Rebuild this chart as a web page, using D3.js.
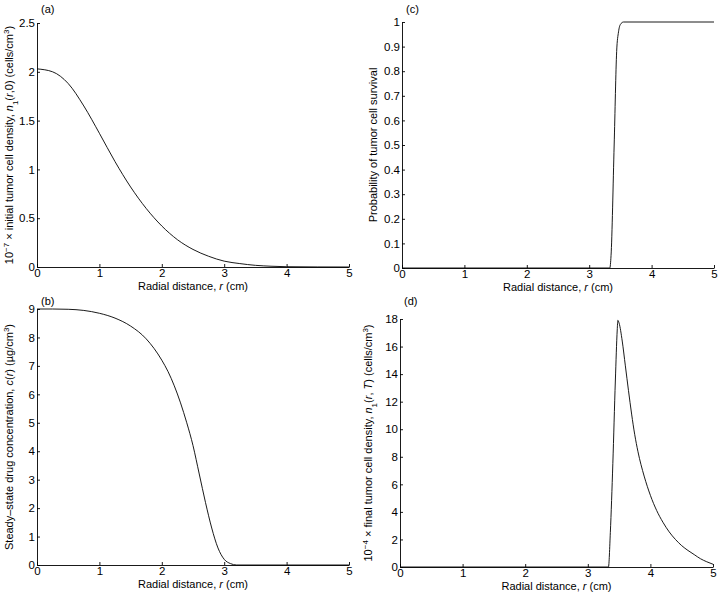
<!DOCTYPE html>
<html>
<head>
<meta charset="utf-8">
<script src="https://cdn.jsdelivr.net/npm/d3@7"></script>
<style>
  body { margin: 0; background: #fff; }
  text { font-family: "Liberation Sans", Arial, sans-serif; fill: #000; }
</style>
</head>
<body>
<div id="chart-area"></div>
<script>
// panel (a): initial tumor cell density
let rA = [0, 0.25, 0.5, 0.75, 1.0, 1.25, 1.5, 1.75, 2.0, 2.25, 2.5, 2.75, 3.0, 3.25, 3.5, 3.75, 4.0, 4.5, 5.0];
let nInit = [2.03, 2.0, 1.88, 1.65, 1.37, 1.08, 0.82, 0.6, 0.42, 0.28, 0.18, 0.11, 0.06, 0.035, 0.017, 0.008, 0.003, 0.0005, 0];

// panel (b): steady-state drug concentration
let rB = [0, 0.25, 0.5, 0.75, 1.0, 1.25, 1.5, 1.75, 2.0, 2.1, 2.2, 2.3, 2.4, 2.5, 2.6, 2.7, 2.8, 2.9, 3.0, 3.1, 3.2, 4.0, 5.0];
let cDrug = [9.0, 9.0, 8.99, 8.95, 8.85, 8.68, 8.4, 7.95, 7.2, 6.8, 6.3, 5.7, 5.0, 4.2, 3.2, 2.2, 1.3, 0.6, 0.2, 0.05, 0, 0, 0];

// panel (c): probability of tumor cell survival
let rC = [0, 3.33, 3.35, 3.4, 3.44, 3.47, 3.5, 3.55, 5.0];
let pSurv = [0, 0, 0.05, 0.5, 0.88, 0.96, 0.99, 1.0, 1.0];

// panel (d): final tumor cell density
let rD = [0, 3.33, 3.36, 3.4, 3.44, 3.47, 3.48, 3.5, 3.55, 3.6, 3.65, 3.7, 3.75, 3.8, 3.9, 4.0, 4.1, 4.2, 4.3, 4.4, 4.5, 4.6, 4.7, 4.8, 4.9, 5.0];
let nFinal = [0, 0, 2.5, 7.5, 13.5, 17.2, 17.9, 17.7, 16.4, 14.6, 12.8, 11.1, 9.6, 8.4, 6.6, 5.2, 4.1, 3.25, 2.55, 2.0, 1.55, 1.2, 0.9, 0.6, 0.38, 0.2];

let xTicks = [0, 1, 2, 3, 4, 5];
let yTicksA = [0, 0.5, 1, 1.5, 2, 2.5];
let yTicksB = [0, 1, 2, 3, 4, 5, 6, 7, 8, 9];
let yTicksC = [0, 0.1, 0.2, 0.3, 0.4, 0.5, 0.6, 0.7, 0.8, 0.9, 1];
let yTicksD = [0, 2, 4, 6, 8, 10, 12, 14, 16, 18];

let svg = d3.select("#chart-area")
  .append("svg")
  .attr("width", 720)
  .attr("height", 595);

function drawPanel(p) {
  let g = svg.append("g").attr("transform", "translate(" + p.left + "," + p.top + ")");
  let w = p.right - p.left;
  let h = p.bottom - p.top;

  let x = d3.scaleLinear().domain([0, 5]).range([0, w]);
  let y = d3.scaleLinear().domain([0, p.yMax]).range([h, 0]);

  let xAxis = d3.axisBottom(x).tickValues(xTicks).tickFormat(d3.format("d"))
    .tickSizeInner(-3).tickSizeOuter(0).tickPadding(2);
  let yAxis = d3.axisLeft(y).tickValues(p.yTicks).tickFormat(d => String(d))
    .tickSizeInner(-3).tickSizeOuter(0).tickPadding(2);

  let gx = g.append("g").attr("transform", "translate(0," + h + ")").call(xAxis);
  let gy = g.append("g").call(yAxis);
  [gx, gy].forEach(a => {
    a.selectAll("text").attr("font-size", "11.5px").attr("font-family", "Liberation Sans, Arial, sans-serif");
    a.selectAll("path, line").attr("stroke", "#000").attr("stroke-width", 0.9);
  });

  let line = d3.line()
    .x((d, i) => x(p.r[i]))
    .y(d => y(d))
    .curve(d3.curveMonotoneX);

  g.append("path")
    .datum(p.v)
    .attr("fill", "none")
    .attr("stroke", "#000")
    .attr("stroke-width", 0.9)
    .attr("d", line);

  // panel letter
  g.append("text")
    .attr("x", 4)
    .attr("y", p.tagY)
    .attr("font-size", "11px")
    .text(p.tag);

  // x label
  let xl = g.append("text")
    .attr("x", w / 2)
    .attr("y", h + 22.5)
    .attr("text-anchor", "middle")
    .attr("font-size", "11px");
  xl.append("tspan").text("Radial distance, ");
  xl.append("tspan").attr("font-style", "italic").text("r");
  xl.append("tspan").text(" (cm)");

  // y label
  let yl = g.append("text")
    .attr("transform", "translate(" + p.ylabX + "," + (h / 2) + ") rotate(-90)")
    .attr("text-anchor", "middle")
    .attr("font-size", "11px");
  p.ylab.forEach(s => {
    let t = yl.append("tspan").text(s.t);
    if (s.i) t.attr("font-style", "italic");
    if (s.sup) t.attr("font-size", "8px").attr("baseline-shift", "super");
    if (s.sub) t.attr("font-size", "8px").attr("baseline-shift", "sub");
  });
}

drawPanel({
  left: 37, right: 349, top: 23, bottom: 267, yMax: 2.5, yTicks: yTicksA,
  r: rA, v: nInit, tag: "(a)", tagY: -10, ylabX: -24,
  ylab: [{t: "10"}, {t: "\u22127", sup: true}, {t: " \u00d7 initial tumor cell density, "},
         {t: "n", i: true}, {t: "1", sub: true}, {t: "("}, {t: "r", i: true}, {t: ",0) (cells/cm"},
         {t: "3", sup: true}, {t: ")"}]
});

drawPanel({
  left: 37, right: 349, top: 309, bottom: 565, yMax: 9, yTicks: yTicksB,
  r: rB, v: cDrug, tag: "(b)", tagY: -4, ylabX: -24,
  ylab: [{t: "Steady\u2013state drug concentration, "}, {t: "c", i: true}, {t: "("},
         {t: "r", i: true}, {t: ") (\u00b5g/cm"}, {t: "3", sup: true}, {t: ")"}]
});

drawPanel({
  left: 402, right: 714, top: 22, bottom: 268, yMax: 1, yTicks: yTicksC,
  r: rC, v: pSurv, tag: "(c)", tagY: -9, ylabX: -25,
  ylab: [{t: "Probability of tumor cell survival"}]
});

drawPanel({
  left: 400, right: 713, top: 319, bottom: 567, yMax: 18, yTicks: yTicksD,
  r: rD, v: nFinal, tag: "(d)", tagY: -14, ylabX: -28,
  ylab: [{t: "10"}, {t: "\u22124", sup: true}, {t: " \u00d7 final tumor cell density, "},
         {t: "n", i: true}, {t: "1", sub: true}, {t: "("}, {t: "r", i: true}, {t: ", "},
         {t: "T", i: true}, {t: ") (cells/cm"}, {t: "3", sup: true}, {t: ")"}]
});
</script>
</body>
</html>
